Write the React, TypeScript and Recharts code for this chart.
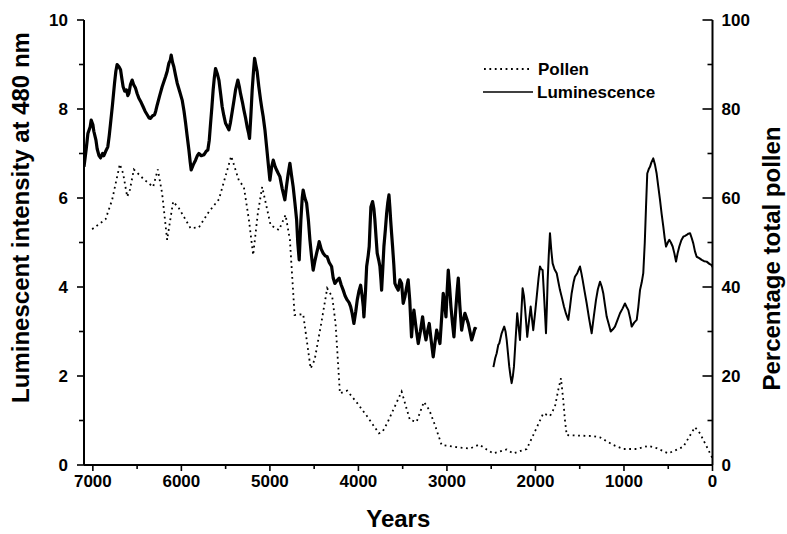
import React from 'react';
import { LineChart, Line, XAxis, YAxis, Legend, Label } from 'recharts';

const FONT = "'Liberation Sans', Arial, Helvetica, sans-serif";

// Years before present (x axis, reversed)
const xTicks = [7000, 6500, 6000, 5500, 5000, 4500, 4000, 3500, 3000, 2500, 2000, 1500, 1000, 500, 0];
const leftTicks = [0, 1, 2, 3, 4, 5, 6, 7, 8, 9, 10];
const rightTicks = [0, 10, 20, 30, 40, 50, 60, 70, 80, 90, 100];

// Luminescence, older segment [year, intensity]
const lumOld: [number, number][] = [
  [7100, 6.7], [7075, 7.1], [7056, 7.45], [7030, 7.6], [7019, 7.75], [7000, 7.65], [6989, 7.5], [6965, 7.3],
  [6951, 7.1], [6930, 6.95], [6913, 6.9], [6890, 7.0], [6876, 6.95], [6855, 7.05], [6831, 7.15], [6815, 7.4],
  [6800, 7.68], [6778, 8.1], [6755, 8.58], [6740, 8.85], [6726, 9.0], [6705, 8.95], [6687, 8.88], [6670, 8.65],
  [6658, 8.5], [6640, 8.4], [6620, 8.43], [6605, 8.3], [6593, 8.35], [6575, 8.55], [6556, 8.65], [6540, 8.55],
  [6518, 8.47], [6500, 8.35], [6480, 8.24], [6455, 8.15], [6432, 8.05], [6410, 7.95], [6386, 7.87], [6365, 7.8],
  [6348, 7.79], [6325, 7.85], [6303, 7.87], [6290, 7.95], [6273, 8.09], [6245, 8.3], [6217, 8.5], [6200, 8.6],
  [6178, 8.73], [6160, 8.85], [6141, 9.03], [6125, 9.1], [6115, 9.21], [6100, 9.05], [6085, 8.95], [6065, 8.75],
  [6047, 8.58], [6020, 8.4], [5991, 8.2], [5970, 7.95], [5952, 7.68], [5935, 7.4], [5915, 7.08], [5900, 6.8],
  [5889, 6.63], [5865, 6.75], [5840, 6.85], [5820, 6.95], [5802, 7.0], [5775, 6.95], [5746, 6.97], [5720, 7.05],
  [5701, 7.08], [5685, 7.3], [5670, 7.68], [5655, 8.05], [5641, 8.43], [5628, 8.7], [5614, 8.91], [5595, 8.8],
  [5576, 8.65], [5557, 8.35], [5539, 8.05], [5520, 7.85], [5501, 7.68], [5480, 7.6], [5463, 7.53], [5445, 7.7],
  [5426, 7.94], [5405, 8.2], [5388, 8.43], [5362, 8.65], [5345, 8.5], [5332, 8.35], [5310, 8.15], [5294, 7.98],
  [5275, 7.8], [5257, 7.6], [5240, 7.45], [5230, 7.34], [5215, 7.85], [5200, 8.43], [5185, 8.85], [5173, 9.14],
  [5160, 9.0], [5144, 8.84], [5125, 8.5], [5105, 8.2], [5090, 8.0], [5076, 7.83], [5056, 7.53], [5037, 7.15],
  [5015, 6.7], [5000, 6.4], [4980, 6.7], [4962, 6.85], [4940, 6.7], [4924, 6.63], [4905, 6.55], [4887, 6.48],
  [4860, 6.2], [4831, 5.96], [4810, 6.3], [4793, 6.55], [4774, 6.78], [4755, 6.5], [4737, 6.25], [4718, 5.9],
  [4698, 5.51], [4685, 5.0], [4669, 4.61], [4650, 5.5], [4635, 6.0], [4624, 6.18], [4605, 6.0], [4585, 5.88],
  [4565, 5.5], [4548, 5.06], [4530, 4.7], [4511, 4.38], [4490, 4.6], [4472, 4.76], [4455, 4.9], [4443, 5.02],
  [4420, 4.85], [4398, 4.76], [4375, 4.7], [4353, 4.68], [4330, 4.55], [4303, 4.46], [4285, 4.2], [4266, 4.08],
  [4240, 4.15], [4217, 4.2], [4195, 4.05], [4172, 3.93], [4150, 3.8], [4127, 3.71], [4105, 3.65], [4088, 3.56],
  [4070, 3.4], [4051, 3.18], [4030, 3.45], [4013, 3.71], [3995, 3.9], [3975, 4.04], [3958, 3.8], [3945, 3.56],
  [3938, 3.33], [3920, 3.9], [3907, 4.46], [3890, 4.7], [3878, 4.91], [3868, 5.4], [3859, 5.8], [3840, 5.92],
  [3825, 5.75], [3814, 5.51], [3800, 5.1], [3788, 4.76], [3770, 4.6], [3757, 4.46], [3745, 4.15], [3738, 3.93],
  [3725, 4.4], [3712, 4.91], [3695, 5.3], [3681, 5.66], [3668, 5.9], [3655, 6.07], [3645, 5.8], [3636, 5.51],
  [3625, 5.2], [3614, 4.91], [3600, 4.5], [3588, 4.08], [3570, 4.0], [3550, 3.93], [3531, 4.16], [3512, 4.08],
  [3494, 3.63], [3475, 3.78], [3455, 4.0], [3438, 4.16], [3420, 3.7], [3400, 2.88], [3385, 3.3], [3373, 3.48],
  [3350, 3.1], [3324, 2.73], [3300, 3.0], [3275, 3.33], [3255, 3.0], [3237, 2.81], [3220, 3.0], [3200, 3.18],
  [3178, 2.8], [3155, 2.43], [3135, 2.75], [3116, 3.03], [3100, 2.9], [3079, 2.73], [3060, 3.3], [3042, 3.86],
  [3025, 3.6], [3011, 3.33], [2998, 3.9], [2985, 4.38], [2970, 4.0], [2955, 3.56], [2938, 3.2], [2921, 2.88],
  [2900, 3.5], [2885, 3.9], [2872, 4.2], [2855, 3.6], [2834, 3.03], [2815, 3.25], [2797, 3.41], [2778, 3.3],
  [2759, 3.18], [2740, 3.0], [2721, 2.81], [2700, 2.95], [2684, 3.07], [2665, 3.05],
];

// Luminescence, recent segment [year, intensity]
const lumRecent: [number, number][] = [
  [2475, 2.2], [2455, 2.4], [2438, 2.51], [2420, 2.7], [2409, 2.73], [2395, 2.85], [2382, 2.96], [2365, 3.05],
  [2353, 3.11], [2338, 3.0], [2325, 2.81], [2310, 2.5], [2296, 2.21], [2282, 2.0], [2269, 1.84], [2255, 2.0],
  [2243, 2.21], [2225, 2.8], [2206, 3.41], [2190, 3.1], [2175, 2.81], [2160, 3.4], [2145, 3.97], [2130, 3.8],
  [2119, 3.56], [2105, 3.2], [2093, 2.88], [2075, 3.2], [2054, 3.56], [2040, 3.3], [2025, 3.03], [2005, 3.4],
  [1986, 3.78], [1965, 4.2], [1949, 4.46], [1935, 4.4], [1919, 4.38], [1900, 3.7], [1881, 2.96], [1870, 3.6],
  [1862, 4.16], [1850, 4.7], [1836, 5.21], [1820, 4.8], [1806, 4.53], [1785, 4.4], [1760, 4.31], [1740, 4.1],
  [1723, 3.93], [1700, 3.75], [1678, 3.56], [1655, 3.4], [1629, 3.26], [1610, 3.55], [1591, 3.86], [1570, 4.1],
  [1554, 4.23], [1528, 4.31], [1510, 4.4], [1497, 4.46], [1480, 4.3], [1467, 4.16], [1445, 3.9], [1421, 3.63],
  [1395, 3.3], [1365, 2.96], [1340, 3.35], [1316, 3.71], [1295, 3.95], [1271, 4.12], [1250, 4.0], [1234, 3.86],
  [1215, 3.6], [1195, 3.33], [1170, 3.15], [1150, 3.0], [1125, 3.05], [1102, 3.11], [1075, 3.25], [1045, 3.41],
  [1015, 3.52], [989, 3.63], [970, 3.55], [951, 3.48], [930, 3.3], [913, 3.11], [885, 3.2], [856, 3.26],
  [838, 3.55], [819, 3.93], [800, 4.1], [782, 4.31], [765, 5.0], [751, 5.8], [737, 6.55], [720, 6.65],
  [706, 6.7], [690, 6.8], [669, 6.89], [650, 6.75], [631, 6.55], [612, 6.25], [593, 5.96], [575, 5.65],
  [556, 5.36], [540, 5.1], [525, 4.91], [505, 5.0], [488, 5.06], [470, 5.0], [450, 4.91], [430, 4.75],
  [412, 4.57], [395, 4.75], [375, 4.91], [352, 5.05], [330, 5.13], [310, 5.15], [292, 5.17], [272, 5.2],
  [254, 5.21], [235, 5.1], [217, 4.98], [198, 4.8], [179, 4.68], [150, 4.65], [122, 4.61], [95, 4.58],
  [66, 4.57], [35, 4.52], [9, 4.49], [0, 4.45],
];

// Pollen percentage [year, %]
const pollen: [number, number][] = [
  [7008, 53.0], [6857, 55.2], [6782, 59.6], [6695, 67.6], [6658, 65.5], [6612, 60.3], [6582, 61.8], [6537, 66.4],
  [6424, 64.2], [6319, 62.5], [6266, 66.4], [6217, 61.0], [6161, 50.6], [6093, 59.2], [6028, 57.7], [5896, 53.2],
  [5802, 53.4], [5689, 56.9], [5576, 59.7], [5437, 69.4], [5350, 63.9], [5294, 62.5], [5237, 55.1], [5189, 47.2],
  [5136, 56.6], [5087, 62.5], [4992, 53.9], [4898, 52.8], [4823, 56.2], [4774, 50.6], [4721, 33.7], [4624, 33.9],
  [4540, 21.7], [4495, 23.6], [4420, 31.8], [4353, 39.7], [4296, 37.8], [4258, 31.8], [4209, 16.1], [4127, 16.7],
  [4013, 13.9], [3900, 10.9], [3768, 7.1], [3727, 7.5], [3675, 9.4], [3512, 16.5], [3418, 10.1], [3343, 9.7],
  [3260, 14.2], [3200, 12.4], [3136, 9.0], [3060, 4.5], [2890, 4.0], [2740, 3.7], [2635, 4.6], [2551, 3.5],
  [2477, 2.6], [2325, 3.5], [2251, 2.6], [2099, 3.6], [2025, 6.7], [1912, 11.6], [1836, 11.0], [1780, 13.1],
  [1742, 16.9], [1712, 19.5], [1686, 14.6], [1667, 10.1], [1647, 6.7], [1497, 6.6], [1347, 6.5], [1271, 6.2],
  [1121, 4.5], [1008, 3.6], [856, 3.6], [725, 4.3], [631, 3.8], [499, 2.6], [330, 4.1], [198, 8.5],
  [141, 7.1], [47, 3.4], [0, 1.5],
];

const lumOldData = lumOld.map(([year, v]) => ({ year, lum: v }));
const lumRecentData = lumRecent.map(([year, v]) => ({ year, lum: v }));
const pollenData = pollen.map(([year, v]) => ({ year, pollen: v }));

const textStyle = { fontFamily: FONT, fontWeight: 'bold' as const, fill: '#000' };

const LeftTick = (p: any) => {
  const { x, y, payload } = p;
  const major = payload.value % 2 === 0;
  return (
    <g>
      <line x1={x - (major ? 7 : 5)} x2={x} y1={y} y2={y} stroke="#000" strokeWidth={1.6} />
      {major && (
        <text x={x - 16} y={y} dy="0.36em" textAnchor="end" fontSize={17} {...textStyle}>{payload.value}</text>
      )}
    </g>
  );
};

const RightTick = (p: any) => {
  const { x, y, payload } = p;
  const major = payload.value % 20 === 0;
  return (
    <g>
      <line x1={x - (major ? 10 : 5)} x2={x} y1={y} y2={y} stroke="#000" strokeWidth={1.6} />
      {major && (
        <text x={x + 9} y={y} dy="0.36em" textAnchor="start" fontSize={17} {...textStyle}>{payload.value}</text>
      )}
    </g>
  );
};

const BottomTick = (p: any) => {
  const { x, y, payload } = p;
  const major = payload.value % 1000 === 0;
  return (
    <g>
      <line x1={x} x2={x} y1={y} y2={y + (major ? 6 : 4)} stroke="#000" strokeWidth={1.6} />
      {major && (
        <text x={x} y={y + 22} textAnchor="middle" fontSize={17} {...textStyle}>{payload.value}</text>
      )}
    </g>
  );
};

const TopTick = (p: any) => {
  const { x, y, payload } = p;
  const major = payload.value % 1000 === 0;
  return <line x1={x} x2={x} y1={y} y2={y + (major ? 9 : 5)} stroke="#000" strokeWidth={1.6} />;
};

const LegendContent = () => (
  <svg width={200} height={46} style={{ display: 'block', overflow: 'visible' }}>
    <line x1={4} x2={52} y1={11} y2={11} stroke="#000" strokeWidth={1.8} strokeDasharray="1.8 3.6" />
    <text x={58} y={11} dy="0.36em" fontSize={17} {...textStyle}>Pollen</text>
    <line x1={3} x2={53} y1={34} y2={34} stroke="#000" strokeWidth={1.4} />
    <text x={57} y={34} dy="0.36em" fontSize={17} {...textStyle}>Luminescence</text>
  </svg>
);

export default function App() {
  return (
    <div style={{ position: 'absolute', left: 0, top: 0, background: '#fff' }}>
      <LineChart width={787} height={534} margin={{ top: 20, right: 0, bottom: 0, left: 0 }}>
        <XAxis
          xAxisId="bottom"
          dataKey="year"
          type="number"
          domain={[0, 7100]}
          reversed
          allowDataOverflow
          ticks={xTicks}
          interval={0}
          height={69}
          tickSize={0}
          tickMargin={0}
          tickLine={false}
          axisLine={{ stroke: '#000', strokeWidth: 2 }}
          tick={<BottomTick />}
        >
          <Label
            content={(props: any) => {
              const vb = props.viewBox || {};
              return (
                <text x={vb.x + vb.width / 2} y={vb.y + 62} textAnchor="middle" fontSize={24} {...textStyle}>Years</text>
              );
            }}
          />
        </XAxis>
        <XAxis
          xAxisId="top"
          orientation="top"
          dataKey="year"
          type="number"
          domain={[0, 7100]}
          reversed
          allowDataOverflow
          ticks={xTicks}
          interval={0}
          height={0}
          tickSize={0}
          tickMargin={0}
          tickLine={false}
          axisLine={{ stroke: '#000', strokeWidth: 2 }}
          tick={<TopTick />}
        />
        <YAxis
          yAxisId="left"
          type="number"
          domain={[0, 10]}
          ticks={leftTicks}
          interval={0}
          width={84}
          tickSize={0}
          tickMargin={0}
          tickLine={false}
          axisLine={{ stroke: '#000', strokeWidth: 2 }}
          tick={<LeftTick />}
        >
          <Label
            content={(props: any) => {
              const vb = props.viewBox || {};
              const cx = vb.x + 20;
              const cy = vb.y + vb.height / 2 - 25;
              return (
                <text x={cx} y={cy} transform={`rotate(-90 ${cx} ${cy})`} dy="0.36em" textAnchor="middle" fontSize={24} {...textStyle}>
                  Luminescent intensity at 480 nm
                </text>
              );
            }}
          />
        </YAxis>
        <YAxis
          yAxisId="right"
          orientation="right"
          type="number"
          domain={[0, 100]}
          ticks={rightTicks}
          interval={0}
          width={74.5}
          tickSize={0}
          tickMargin={0}
          tickLine={false}
          axisLine={{ stroke: '#000', strokeWidth: 2 }}
          tick={<RightTick />}
        >
          <Label
            content={(props: any) => {
              const vb = props.viewBox || {};
              const cx = vb.x + 59;
              const cy = vb.y + vb.height / 2 + 16;
              return (
                <text x={cx} y={cy} transform={`rotate(-90 ${cx} ${cy})`} dy="0.36em" textAnchor="middle" fontSize={24} {...textStyle}>
                  Percentage total pollen
                </text>
              );
            }}
          />
        </YAxis>
        <Legend
          layout="horizontal"
          verticalAlign="middle"
          align="center"
          wrapperStyle={{ left: 480, top: 58, width: 200, height: 46 }}
          content={<LegendContent />}
        />
        <Line
          name="Pollen"
          data={pollenData}
          xAxisId="bottom"
          yAxisId="right"
          dataKey="pollen"
          type="linear"
          stroke="#000"
          strokeWidth={1.8}
          strokeDasharray="1.8 3.6"
          dot={false}
          activeDot={false}
          isAnimationActive={false}
        />
        <Line
          name="Luminescence"
          data={lumOldData}
          xAxisId="bottom"
          yAxisId="left"
          dataKey="lum"
          type="linear"
          stroke="#000"
          strokeWidth={3.2}
          strokeLinejoin="round"
          dot={false}
          activeDot={false}
          isAnimationActive={false}
        />
        <Line
          name="Luminescence "
          data={lumRecentData}
          xAxisId="bottom"
          yAxisId="left"
          dataKey="lum"
          type="linear"
          stroke="#000"
          strokeWidth={2}
          strokeLinejoin="round"
          dot={false}
          activeDot={false}
          legendType="none"
          isAnimationActive={false}
        />
      </LineChart>
    </div>
  );
}
